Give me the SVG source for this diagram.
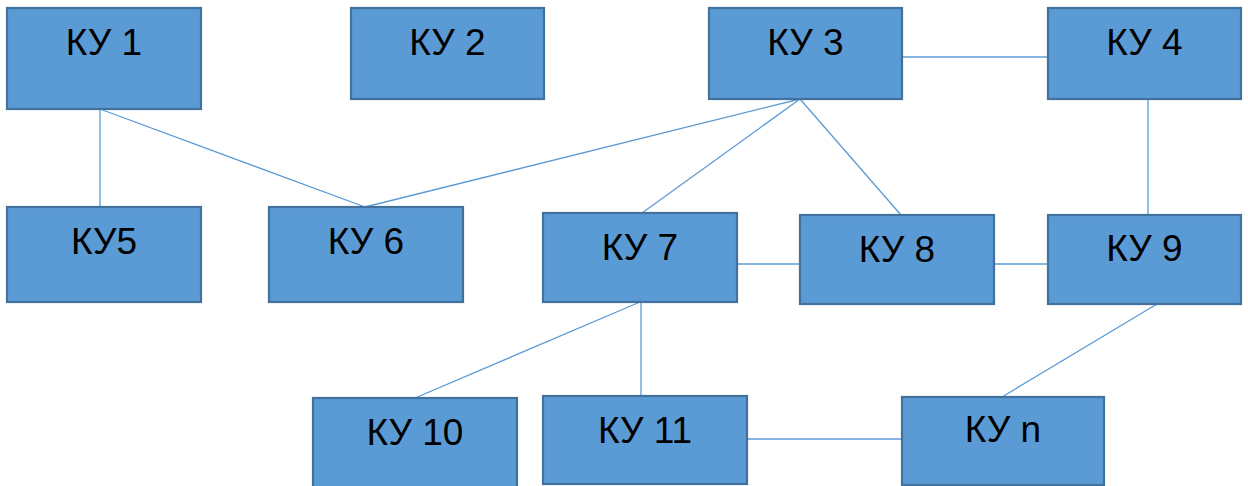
<svg xmlns="http://www.w3.org/2000/svg" width="1248" height="486" viewBox="0 0 1248 486">
<style>
.box{fill:#5B9BD5;stroke:#41719C;stroke-width:2.2}
.lbl{font-family:"Liberation Sans",Arial,sans-serif;font-size:37px;fill:#000;text-anchor:middle}
.conn line{stroke:#5B9BD5;stroke-width:1.3;fill:none}
</style>
<rect width="1248" height="486" fill="#fff"/>
<g class="conn" id="connectors">
<line x1="100" y1="109" x2="100" y2="207"/>
<line x1="100" y1="109" x2="365" y2="207"/>
<line x1="800" y1="99" x2="365" y2="207"/>
<line x1="800" y1="99" x2="642" y2="213"/>
<line x1="800" y1="99" x2="901" y2="215"/>
<line x1="902" y1="57" x2="1048" y2="57"/>
<line x1="1148" y1="99" x2="1148" y2="215"/>
<line x1="737" y1="264" x2="800" y2="264"/>
<line x1="994" y1="264" x2="1048" y2="264"/>
<line x1="640" y1="302" x2="415" y2="398"/>
<line x1="641" y1="302" x2="641" y2="396"/>
<line x1="1157" y1="304" x2="1002" y2="397"/>
<line x1="747" y1="439" x2="902" y2="439"/>
</g>
<g id="ku1"><rect class="box" x="7" y="8" width="194" height="101"/><text class="lbl" x="104" y="55">КУ 1</text></g>
<g id="ku2"><rect class="box" x="351" y="8" width="193" height="91"/><text class="lbl" x="447.5" y="55">КУ 2</text></g>
<g id="ku3"><rect class="box" x="709" y="8" width="193" height="91"/><text class="lbl" x="805.5" y="55">КУ 3</text></g>
<g id="ku4"><rect class="box" x="1048" y="8" width="193" height="91"/><text class="lbl" x="1144.5" y="55">КУ 4</text></g>
<g id="ku5"><rect class="box" x="7" y="207" width="194" height="95"/><text class="lbl" x="104" y="254">КУ5</text></g>
<g id="ku6"><rect class="box" x="269" y="207" width="194" height="95"/><text class="lbl" x="366" y="254">КУ 6</text></g>
<g id="ku7"><rect class="box" x="543" y="213" width="194" height="89"/><text class="lbl" x="640" y="260">КУ 7</text></g>
<g id="ku8"><rect class="box" x="800" y="215" width="194" height="89"/><text class="lbl" x="897" y="262">КУ 8</text></g>
<g id="ku9"><rect class="box" x="1048" y="215" width="193" height="89"/><text class="lbl" x="1144.5" y="261">КУ 9</text></g>
<g id="ku10"><rect class="box" x="313" y="398" width="204" height="100"/><text class="lbl" x="415" y="445">КУ 10</text></g>
<g id="ku11"><rect class="box" x="543" y="396" width="204" height="88"/><text class="lbl" x="645" y="443">КУ 11</text></g>
<g id="kun"><rect class="box" x="902" y="397" width="202" height="88"/><text class="lbl" x="1003" y="442">КУ n</text></g>
</svg>
